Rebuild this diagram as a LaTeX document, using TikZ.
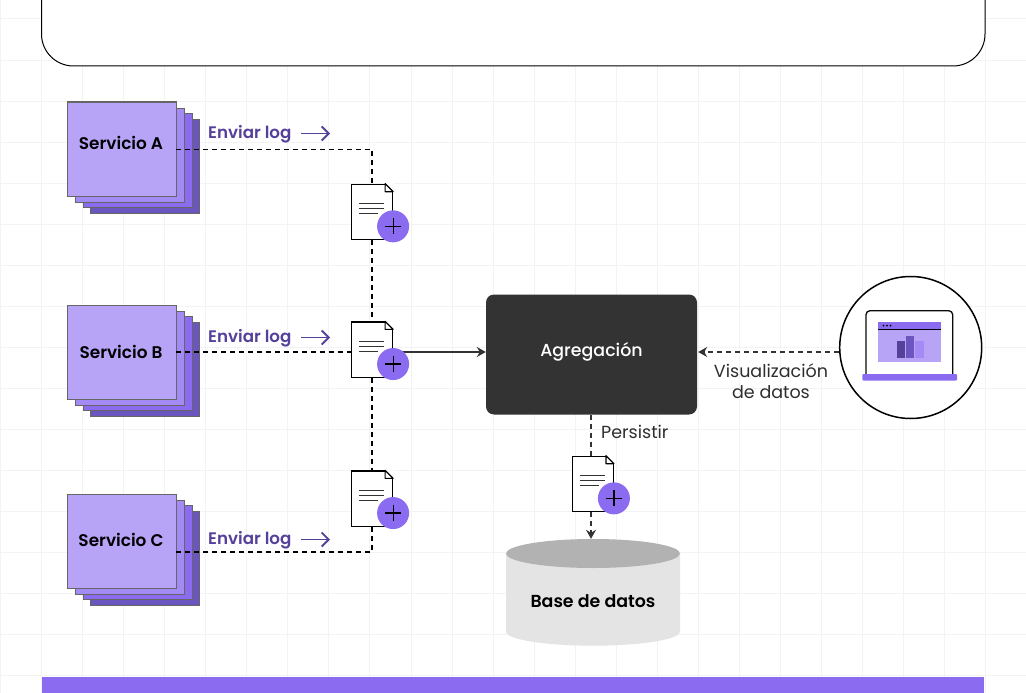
\documentclass[tikz,border=0pt]{standalone}
\usepackage{fontspec}
\setmainfont{Poppins}[BoldFont={Poppins SemiBold}]
\newfontfamily\medfont{Poppins Medium}
\usetikzlibrary{arrows.meta,calc,shapes.geometric}
\definecolor{vA}{HTML}{B7A4F7}
\definecolor{vB}{HTML}{A48AF5}
\definecolor{vC}{HTML}{8B6CF0}
\definecolor{vD}{HTML}{6B55BE}
\definecolor{vE}{HTML}{55409A}
\definecolor{ink}{HTML}{333333}
\definecolor{gridc}{HTML}{F3F3F3}
\pgfdeclarelayer{back}
\pgfdeclarelayer{conn}
\pgfsetlayers{back,conn,main}
\tikzset{
  layer/.style={draw=ink!75,line width=1pt,minimum width=108.5pt,minimum height=94pt,inner sep=0pt},
  svcbox/.style={layer,fill=vA},
  svctext/.style={font=\fontsize{16.9}{20}\selectfont\bfseries,text=black,inner sep=0pt},
  docbox/.style={draw=black,fill=white,line width=1.2pt,minimum width=41pt,minimum height=55.5pt,inner sep=0pt},
  plusc/.style={circle,fill=vC,minimum size=32pt,inner sep=0pt},
  dashk/.style={draw=black,line width=1.2pt,dash pattern=on 5pt off 4pt},
  dashg/.style={draw=ink,line width=1.2pt,dash pattern=on 5pt off 4pt},
  tip/.style={-{Stealth[length=9pt,width=10pt,inset=3pt]}},
  lbl/.style={font=\fontsize{17.5}{21}\selectfont,text=ink!90!black,align=center,inner sep=0pt},
  sendlbl/.style={font=\fontsize{16.7}{18}\selectfont\bfseries,text=vE,inner sep=0pt},
  sendarrow/.style={draw=vE,line width=1.8pt,-{Straight Barb[length=7pt,width=14pt]}},
}
\newcommand{\servicestack}[3]{% name, label, y of main box centre
  \node[layer,fill=vD] at (145.2,#3+17) {};
  \node[layer,fill=vC] at (138.2,#3+11.3) {};
  \node[layer,fill=vB] at (130.2,#3+6) {};
  \node[svcbox] (#1) at (122,#3) {};
}
\newcommand{\docicon}[3]{% name, centre x, centre y
  \node[docbox] (#1) at (#2,#3) {};
  \fill[white] ($(#1.north east)+(-8.5,-0.6)$) -- ($(#1.north east)+(0.6,-0.6)$) -- ($(#1.north east)+(0.6,8.5)$) -- cycle;
  \draw[black,line width=1.2pt,line join=round] ($(#1.north east)+(-8,0)$) -- ($(#1.north east)+(0,8)$) -- ($(#1.north east)+(-8,8)$) -- cycle;
  \draw[ink,line width=1.3pt] ($(#1.north west)+(8,20)$) -- ++(25,0) ($(#1.north west)+(8,25)$) -- ++(25,0) ($(#1.north west)+(8,30)$) -- ++(19,0);
  \node[plusc] (#1p) at ($(#1.south east)+(0,-14)$) {};
  \draw[black,line width=1.2pt] ($(#1p.center)+(-8,0)$) -- ($(#1p.center)+(8,0)$) ($(#1p.center)+(0,-8)$) -- ($(#1p.center)+(0,8)$);
}
\begin{document}
\begin{tikzpicture}[x=1pt,y=-1pt]
\useasboundingbox (0,0) rectangle (1026,693);
\begin{pgfonlayer}{back}
\fill[white] (0,0) rectangle (1026,693);
\foreach \k in {0,...,25} \draw[gridc,line width=1pt] ({0.7+41.03*\k},0) -- ({0.7+41.03*\k},693);
\foreach \k in {0,...,16} \draw[gridc,line width=1pt] (0,{19+41.02*\k}) -- (1026,{19+41.02*\k});
\draw[black,fill=white,line width=1pt,rounded corners=32pt] (41.5,-2) -- (41.5,66) -- (985,66) -- (985,-2);
\fill[vC] (42,677) rectangle (984,695);
\servicestack{sA}{Servicio A}{149}
\servicestack{sB}{Servicio B}{352.5}
\servicestack{sC}{Servicio C}{541}
\end{pgfonlayer}
% service labels
\node[svctext] (sAt) at (121,142.7) {Servicio A};
\node[svctext] (sBt) at (121,351.7) {Servicio B};
\node[svctext] (sCt) at (121,539.7) {Servicio C};
% centre nodes
\node[fill=ink,rounded corners=8pt,minimum width=211pt,minimum height=120pt,inner sep=0pt] (agg) at (591.5,354.5) {};
\node[font=\fontsize{17.4}{20}\selectfont\medfont,text=white,inner sep=0pt] (aggt) at (591.5,351.5) {Agregación};
\node[circle,draw=black,fill=white,line width=1.5pt,minimum size=142pt,inner sep=0pt] (viz) at (910.7,347.5) {};
% database
\fill[black!10.5] (506,553.5) -- (506,631.7) arc[start angle=180,end angle=360,x radius=87,y radius=-14] -- (680,553.5) -- cycle;
\node[ellipse,fill=black!30,minimum width=174pt,minimum height=29pt,inner sep=0pt] (dbtop) at (593,553.5) {};
\node[font=\fontsize{17.4}{20}\selectfont\bfseries,inner sep=0pt] (dbt) at (593,601.5) {Base de datos};
% documents
\docicon{dA}{372}{212}
\docicon{dB}{372}{349.7}
\docicon{dC}{372}{498.7}
\docicon{dD}{592.8}{484}
% connectors
\coordinate (sAe) at ($(sA.east)+(-1,0.5)$);
\coordinate (sBe) at ($(sB.east)+(-1,-0.5)$);
\coordinate (sCe) at ($(sC.east)+(-1,11)$);
\coordinate (bendA) at (dA.north |- sAe);
\coordinate (bendC) at (dC.south |- sCe);
\coordinate (xP) at (591,414.5);
\begin{pgfonlayer}{conn}
\draw[dashk] (sAe) -- (bendA) -- (dA.north);
\draw[dashk] (dA.south) -- (dB.north);
\draw[dashk] (dB.south) -- (dC.north);
\draw[dashk] (dC.south) -- (bendC) -- (sCe);
\draw[dashk] (sBe) -- (dB.west |- sBe);
\draw[ink,line width=1.4pt,tip] (dB.east |- sBe) -- (agg.west |- sBe);
\draw[dashg,tip] (viz.west |- sBe) -- ([xshift=1pt]agg.east |- sBe);
\draw[dashg] (xP) -- (xP |- dD.north);
\draw[dashg,tip] (xP |- dD.south) -- (xP |- dbtop.north);
\end{pgfonlayer}
% send labels
\node[sendlbl,anchor=west] (l1) at (208,134) {Enviar log};
\node[sendlbl,anchor=west] (l2) at (208,338) {Enviar log};
\node[sendlbl,anchor=west] (l3) at (208,540) {Enviar log};
\coordinate (a1s) at (301,133.5); \coordinate (a1e) at (330,133.5);
\coordinate (a2s) at (301,337.5); \coordinate (a2e) at (330,337.5);
\coordinate (a3s) at (301,539.5); \coordinate (a3e) at (330,539.5);
\draw[sendarrow] (a1s) -- (a1e);
\draw[sendarrow] (a2s) -- (a2e);
\draw[sendarrow] (a3s) -- (a3e);
% text labels
\node[lbl,anchor=west] (lp) at (601,432) {Persistir};
\node[lbl] (lv) at (771,381) {Visualización\\de datos};
% laptop
\draw[ink!20!black,line width=1.3pt,rounded corners=4pt] (866,375) -- (866,310.7) -- (952.7,310.7) -- (952.7,375);
\fill[vA] (878.3,322.3) rectangle (941,362);
\fill[vC] (878.3,322.3) rectangle (941,329);
\draw[black,line width=1pt] (878.3,329.5) -- (941,329.5);
\fill[black] (883.5,325.7) circle (1pt) (887,325.7) circle (1pt) (890.5,325.7) circle (1pt);
\fill[vE] (896.7,341) rectangle (905,358);
\fill[vD] (906,336) rectangle (914.3,358);
\fill[vB] (915,341) rectangle (924,358);
\fill[vC,rounded corners=1pt] (862.3,374) rectangle (957,380.5);
\end{tikzpicture}
\end{document}
